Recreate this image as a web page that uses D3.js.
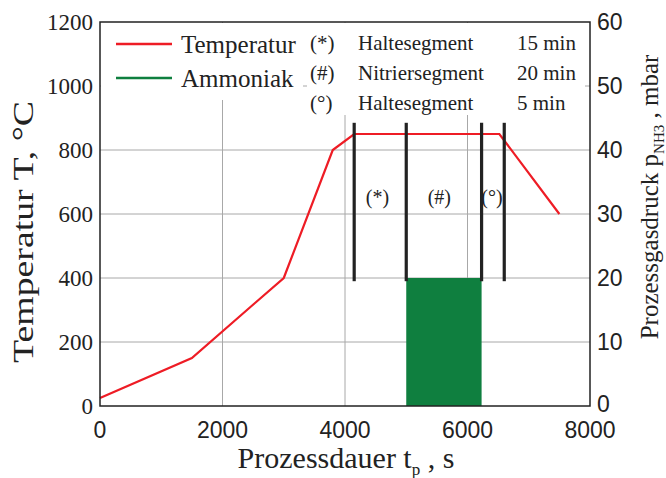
<html>
  <head>
    <style>
      body { margin: 0; background: #fff; }
      svg { display: block; }
      .serif { font-family: "Liberation Serif", "Times New Roman", serif; fill: #222; }
      .sans { font-family: "Liberation Sans", Arial, sans-serif; fill: #222; }
    </style>
  </head>
  <body>
    <script src="https://d3js.org/d3.v7.min.js"></script>
    <script>
      // temperature profile
      const timeS = [0, 1500, 3000, 3800, 4150, 6520, 7500];
      const tempC = [25, 150, 400, 800, 850, 850, 600];
      // segment borders (black bars) and labels
      const segBounds = [4150, 5000, 6230, 6600];
      const segTempRange = [390, 885];
      const segLabels = ["(*)", "(#)", "(°)"];
      const segLabelTime = [4530, 5540, 6400];
      // ammonia dosing
      const nh3Time = [5000, 6230];
      const nh3Pressure = 20;
      // ticks
      const xTicks = [0, 2000, 4000, 6000, 8000];
      const yTicks = [0, 200, 400, 600, 800, 1000, 1200];
      const y2Ticks = [0, 10, 20, 30, 40, 50, 60];
      // legends
      const legendNames = ["Temperatur", "Ammoniak"];
      const legendColors = ["#ee1c25", "#0f7f3f"];
      const segMarks = ["(*)", "(#)", "(°)"];
      const segNames = ["Haltesegment", "Nitriersegment", "Haltesegment"];
      const segDur = ["15 min", "20 min", "5 min"];

      const W = 666, H = 478;
      const m = { left: 100, right: 590, top: 22, bottom: 406 };

      const x = d3.scaleLinear().domain([0, 8000]).range([m.left, m.right]);
      const y = d3.scaleLinear().domain([0, 1200]).range([m.bottom, m.top]);
      const y2 = d3.scaleLinear().domain([0, 60]).range([m.bottom, m.top]);

      const svg = d3.select("body").append("svg").attr("width", W).attr("height", H);

      // grid
      const grid = svg.append("g").attr("stroke", "#a8a8a8").attr("stroke-width", 1);
      xTicks.slice(1, -1).forEach((t) => {
        grid.append("line").attr("x1", x(t)).attr("x2", x(t)).attr("y1", m.top).attr("y2", m.bottom);
      });
      yTicks.slice(1, -1).forEach((t) => {
        grid.append("line").attr("x1", m.left).attr("x2", m.right).attr("y1", y(t)).attr("y2", y(t));
      });

      // legend backgrounds hide grid
      svg.append("rect").attr("x", m.left + 1).attr("y", m.top + 1).attr("width", 202).attr("height", 77).attr("fill", "#fff");
      svg.append("rect").attr("x", 307).attr("y", m.top + 1).attr("width", 278).attr("height", 92).attr("fill", "#fff");

      // ammonia bar
      svg.append("rect")
        .attr("x", x(nh3Time[0]))
        .attr("width", x(nh3Time[1]) - x(nh3Time[0]))
        .attr("y", y2(nh3Pressure))
        .attr("height", y2(0) - y2(nh3Pressure))
        .attr("fill", legendColors[1]);

      // temperature line
      const pts = timeS.map((t, i) => [t, tempC[i]]);
      svg.append("path")
        .datum(pts)
        .attr("d", d3.line().x((d) => x(d[0])).y((d) => y(d[1])))
        .attr("fill", "none")
        .attr("stroke", legendColors[0])
        .attr("stroke-width", 2.2);

      // segment bars
      segBounds.forEach((t) => {
        svg.append("line")
          .attr("x1", x(t)).attr("x2", x(t))
          .attr("y1", y(segTempRange[0])).attr("y2", y(segTempRange[1]))
          .attr("stroke", "#222").attr("stroke-width", 3.2);
      });
      segLabels.forEach((s, i) => {
        svg.append("text").attr("class", "serif")
          .attr("x", x(segLabelTime[i])).attr("y", 204)
          .attr("text-anchor", "middle").attr("font-size", 20)
          .text(s);
      });

      // frame
      svg.append("rect")
        .attr("x", m.left).attr("y", m.top)
        .attr("width", m.right - m.left).attr("height", m.bottom - m.top)
        .attr("fill", "none").attr("stroke", "#222").attr("stroke-width", 1.5);

      // tick labels
      yTicks.forEach((t) => {
        svg.append("text").attr("class", "serif")
          .attr("x", 93).attr("y", y(t) + 8)
          .attr("text-anchor", "end").attr("font-size", 23)
          .text(t);
      });
      y2Ticks.forEach((t) => {
        svg.append("text").attr("class", "sans")
          .attr("x", 597).attr("y", y2(t) + 8 - (t === 0 ? 2 : 0))
          .attr("font-size", 23)
          .text(t);
      });
      xTicks.forEach((t) => {
        svg.append("text").attr("class", "sans")
          .attr("x", x(t)).attr("y", 438)
          .attr("text-anchor", "middle").attr("font-size", 23)
          .text(t);
      });

      // axis titles
      const xt = svg.append("text").attr("class", "serif")
        .attr("x", 346).attr("y", 468).attr("text-anchor", "middle").attr("font-size", 30);
      xt.append("tspan").text("Prozessdauer t");
      xt.append("tspan").attr("font-size", 17).attr("dy", 7).text("p");
      xt.append("tspan").attr("dy", -7).text(" , s");

      svg.append("text").attr("class", "serif")
        .attr("transform", "translate(33,232) rotate(-90)")
        .attr("text-anchor", "middle").attr("font-size", 30)
        .attr("textLength", 262).attr("lengthAdjust", "spacingAndGlyphs")
        .text("Temperatur T, °C");

      const yt2 = svg.append("text").attr("class", "serif")
        .attr("transform", "translate(658,197) rotate(-90)")
        .attr("text-anchor", "middle").attr("font-size", 25);
      yt2.append("tspan").text("Prozessgasdruck p");
      yt2.append("tspan").attr("font-size", 15).attr("dy", 6).text("NH3");
      yt2.append("tspan").attr("dy", -6).text(" , mbar");

      // legend 1
      legendNames.forEach((n, i) => {
        const ly = 44 + i * 34;
        svg.append("line")
          .attr("x1", 116).attr("x2", 172).attr("y1", ly).attr("y2", ly)
          .attr("stroke", legendColors[i]).attr("stroke-width", 2.5);
        svg.append("text").attr("class", "serif")
          .attr("x", 181).attr("y", ly + 9).attr("font-size", 25)
          .text(n);
      });

      // legend 2
      segMarks.forEach((s, i) => {
        const ly = 50 + i * 30;
        svg.append("text").attr("class", "serif").attr("x", 310).attr("y", ly).attr("font-size", 21).text(s);
        svg.append("text").attr("class", "serif").attr("x", 358).attr("y", ly).attr("font-size", 21).text(segNames[i]);
        svg.append("text").attr("class", "serif").attr("x", 517).attr("y", ly).attr("font-size", 21).text(segDur[i]);
      });
    </script>
  </body>
</html>
